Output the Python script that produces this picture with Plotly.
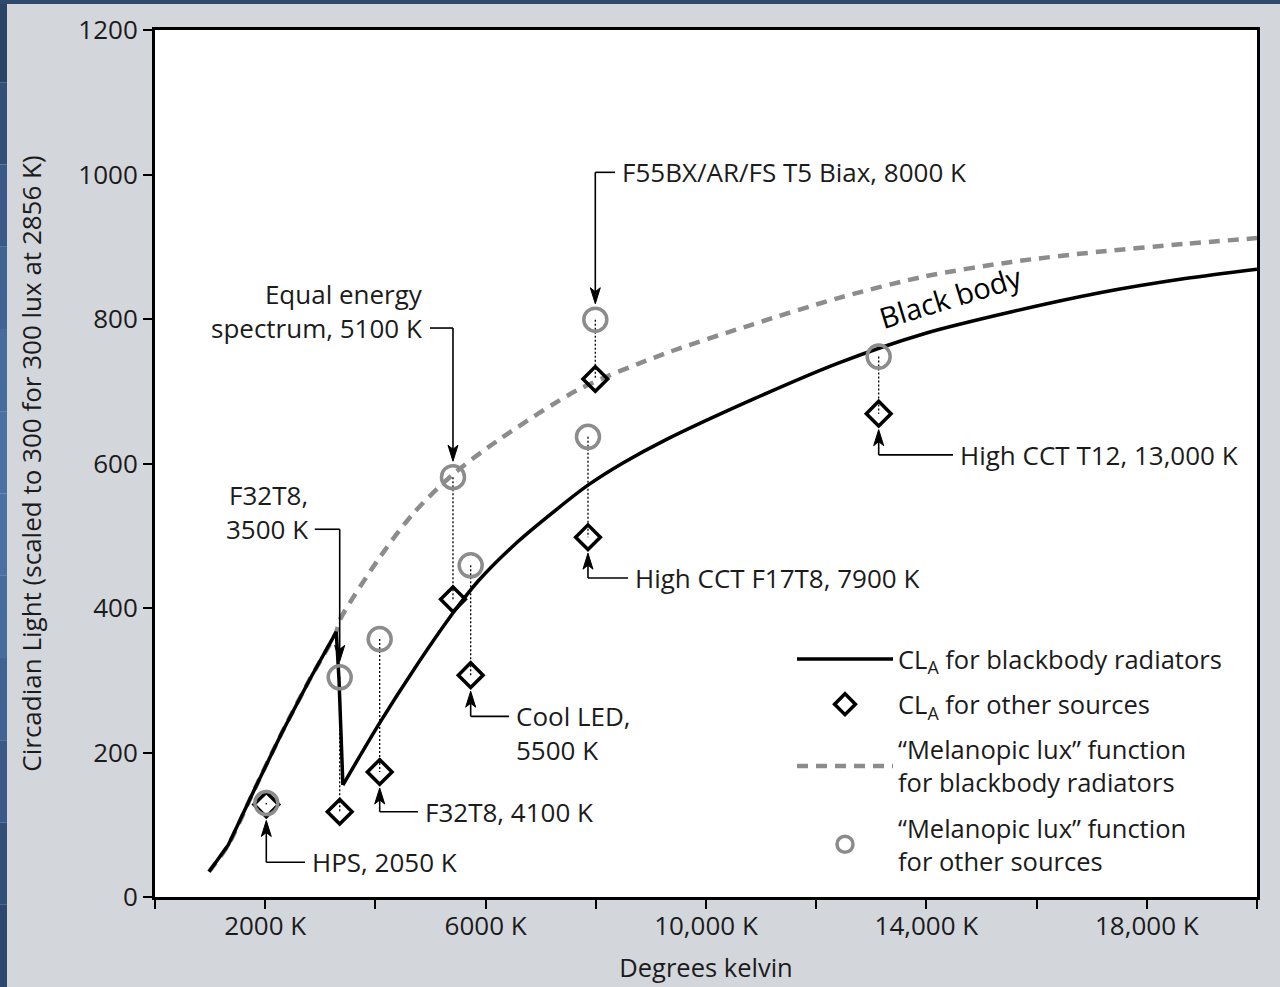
import plotly.graph_objects as go

# ---------------- data ----------------
# CL_A for blackbody radiators (solid black curve): low segment incl. sharp drop, high segment
bb_T_low = [980, 1330, 1800, 2300, 2800, 3290, 3340, 3410]
bb_CLA_low = [35, 72, 148, 227, 300, 367, 300, 155]
bb_T_high = [3410, 4078, 4700, 5408, 5862, 6588, 7314, 7858, 8500, 9250, 10826,
             12400, 13973, 15548, 17122, 18694, 20000]
bb_CLA_high = [155, 241, 315, 393, 437, 492, 538, 570, 601, 632, 688,
               739, 780, 810, 836, 856, 869]

# "Melanopic lux" function for blackbody radiators (dashed grey curve)
ml_T = [980, 1330, 1800, 2300, 2800, 3290, 3352, 4078, 4700, 5408, 6225,
        7677, 9250, 10826, 12400, 13973, 15548, 17122, 18694, 20000]
ml_val = [35, 72, 148, 227, 300, 367, 383, 470, 532, 585, 632,
          702, 752, 792, 829, 859, 879, 893, 904, 912]

# other sources
src_labels = ["HPS, 2050 K", "F32T8,<br>3500 K", "F32T8, 4100 K",
              "Equal energy<br>spectrum, 5100 K", "Cool LED,<br>5500 K",
              "High CCT F17T8, 7900 K", "F55BX/AR/FS T5 Biax, 8000 K",
              "High CCT T12, 13,000 K"]
src_T = [2020, 3352, 4078, 5408, 5729, 7858, 7991, 13134]
src_melanopic = [130, 304, 357, 581, 459, 637, 799, 748]
src_CLA = [128, 118, 173, 412, 307, 498, 717, 669]

x_tickvals = [2000, 6000, 10000, 14000, 18000]
x_ticktext = ["2000 K", "6000 K", "10,000 K", "14,000 K", "18,000 K"]
y_tickvals = [0, 200, 400, 600, 800, 1000, 1200]

# ---------------- label layout (callout geometry) ----------------
call_dir = ["below", "above", "below", "above", "below", "below", "above", "below"]
call_elbow = [48, 509, 118, 787.5, 250, 441.5, 1003, 612]
call_end = [2722, 2900, 4773, 4990, 6425, 8584, 8350, 14483]
call_side = ["left", "right", "left", "right", "left", "left", "left", "left"]
call_vshift = [0, 17, 0, 17, -17, 0, 0, 0]

FONT = "'Open Sans', Lato, sans-serif"
TXT = "#1b1b1b"
GREY = "#8c8c8c"

W, H = 1280, 987
ML, MR, MT, MB = 155, 23, 30, 90
PW, PH = W - ML - MR, H - MT - MB
YMAX = 1200
px_per_unit = PH / YMAX

fig = go.Figure()

fig.add_trace(go.Scatter(
    x=ml_T, y=ml_val, mode="lines",
    line=dict(color=GREY, width=4.5, dash="11px,8px", shape="spline", smoothing=0.8),
    name="“Melanopic lux” function<br>for blackbody radiators",
    legendrank=3, legendgroup="c"))

fig.add_trace(go.Scatter(
    x=bb_T_low, y=bb_CLA_low, mode="lines",
    line=dict(color="black", width=3.5),
    name="CL<sub>A</sub> for blackbody radiators",
    legendrank=1, legendgroup="a"))
fig.add_trace(go.Scatter(
    x=bb_T_high, y=bb_CLA_high, mode="lines",
    line=dict(color="black", width=3.5, shape="spline", smoothing=0.8),
    name="CL<sub>A</sub> for blackbody radiators", showlegend=False,
    legendgroup="a"))

# dotted connectors between the two values of each source
cx, cy = [], []
for t, m, c in zip(src_T, src_melanopic, src_CLA):
    cx += [t, t, None]
    cy += [m, c, None]
fig.add_trace(go.Scatter(x=cx, y=cy, mode="lines",
                         line=dict(color="black", width=1.3, dash="2px,2px"),
                         showlegend=False, hoverinfo="skip"))

fig.add_trace(go.Scatter(
    x=src_T, y=src_CLA, mode="markers",
    marker=dict(symbol="diamond-open", size=19, color="black", line=dict(width=3.5, color="black")),
    name="CL<sub>A</sub> for other sources",
    legendrank=2, legendgroup="b"))

fig.add_trace(go.Scatter(
    x=src_T, y=src_melanopic, mode="markers",
    marker=dict(symbol="circle-open", size=23, color=GREY, line=dict(width=3.5, color=GREY)),
    name="“Melanopic lux” function<br>for other sources",
    legendrank=4, legendgroup="d"))

annotations = []
shapes = []
off_px = 16
for i, t in enumerate(src_T):
    m, c = src_melanopic[i], src_CLA[i]
    elbow = call_elbow[i]
    if call_dir[i] == "above":
        tip = max(m, c) + off_px / px_per_unit
        head = "M0,0 L-5,16 L0,12 L5,16 Z"
        line_end = tip + 10 / px_per_unit
    else:
        tip = min(m, c) - off_px / px_per_unit
        head = "M0,0 L-5,-16 L0,-12 L5,-16 Z"
        line_end = tip - 10 / px_per_unit
    shapes.append(dict(type="line", xref="x", yref="y", x0=t, x1=t, y0=elbow, y1=line_end,
                       line=dict(color="black", width=1.6)))
    shapes.append(dict(type="path", xref="x", yref="y", xsizemode="pixel", ysizemode="pixel",
                       xanchor=t, yanchor=tip, path=head, fillcolor="black",
                       line=dict(color="black", width=1)))
    shapes.append(dict(type="line", xref="x", yref="y", x0=t, x1=call_end[i],
                       y0=elbow, y1=elbow, line=dict(color="black", width=1.6)))
    annotations.append(dict(
        x=call_end[i], y=elbow, xref="x", yref="y", text=src_labels[i], showarrow=False,
        xanchor=call_side[i], yanchor="middle", align=call_side[i],
        xshift=5 if call_side[i] == "left" else -5, yshift=call_vshift[i],
        font=dict(family=FONT, size=26, color=TXT)))

annotations.append(dict(x=14446, y=831, xref="x", yref="y", text="Black body",
                        showarrow=False, textangle=-17,
                        font=dict(family=FONT, size=29, color="black")))

# decorative dark-blue frame of the slide (left gradient strip + top strip)
def px_x(p):
    return (p - ML) / PW

def px_y(p):
    return (H - MB - p) / PH

strip_cols = ["#2a4466", "#30507a", "#375a88", "#3f6494", "#466c9e", "#4a71a4",
              "#4a71a4", "#466c9e", "#3f6494", "#375a88", "#30507a", "#2c4870"]
n = len(strip_cols)
for k, col in enumerate(strip_cols):
    shapes.append(dict(type="rect", xref="paper", yref="paper",
                       x0=px_x(0), x1=px_x(7), y0=px_y(H * (k + 1) / n), y1=px_y(H * k / n),
                       fillcolor=col, line=dict(width=0), layer="above"))
shapes.append(dict(type="rect", xref="paper", yref="paper",
                   x0=px_x(0), x1=px_x(W), y0=px_y(4), y1=px_y(0),
                   fillcolor="#2f4a6e", line=dict(width=0), layer="above"))

axis_common = dict(showgrid=False, zeroline=False, showline=True, linecolor="black",
                   linewidth=3, mirror=True, ticks="outside", ticklen=9, tickwidth=2,
                   tickcolor="black", tickfont=dict(family=FONT, size=26, color=TXT))

fig.update_layout(
    width=W, height=H,
    margin=dict(l=ML, r=MR, t=MT, b=MB, autoexpand=False),
    paper_bgcolor="#d3d6db", plot_bgcolor="white",
    font=dict(family=FONT, color=TXT),
    xaxis=dict(range=[0, 20000], tickvals=x_tickvals, ticktext=x_ticktext,
               ticklabelstandoff=-5,
               minor=dict(tick0=0, dtick=2000, ticks="outside", ticklen=9, tickwidth=2,
                          tickcolor="black"),
               title=dict(text="Degrees kelvin", font=dict(family=FONT, size=25.5, color=TXT), standoff=17),
               **axis_common),
    yaxis=dict(range=[0, YMAX], tickvals=y_tickvals,
               title=dict(text="Circadian Light (scaled to 300 for 300 lux at 2856 K)",
                          font=dict(family=FONT, size=26, color=TXT), standoff=30),
               **axis_common),
    legend=dict(x=px_x(792), y=px_y(636), xanchor="left", yanchor="top",
                bgcolor="white", borderwidth=0, traceorder="grouped", tracegroupgap=9,
                itemwidth=96, font=dict(family=FONT, size=25.5, color=TXT)),
    annotations=annotations, shapes=shapes,
)

fig.write_html("out.html", config={"displayModeBar": False},
               post_script="document.body.style.margin='0px';")
